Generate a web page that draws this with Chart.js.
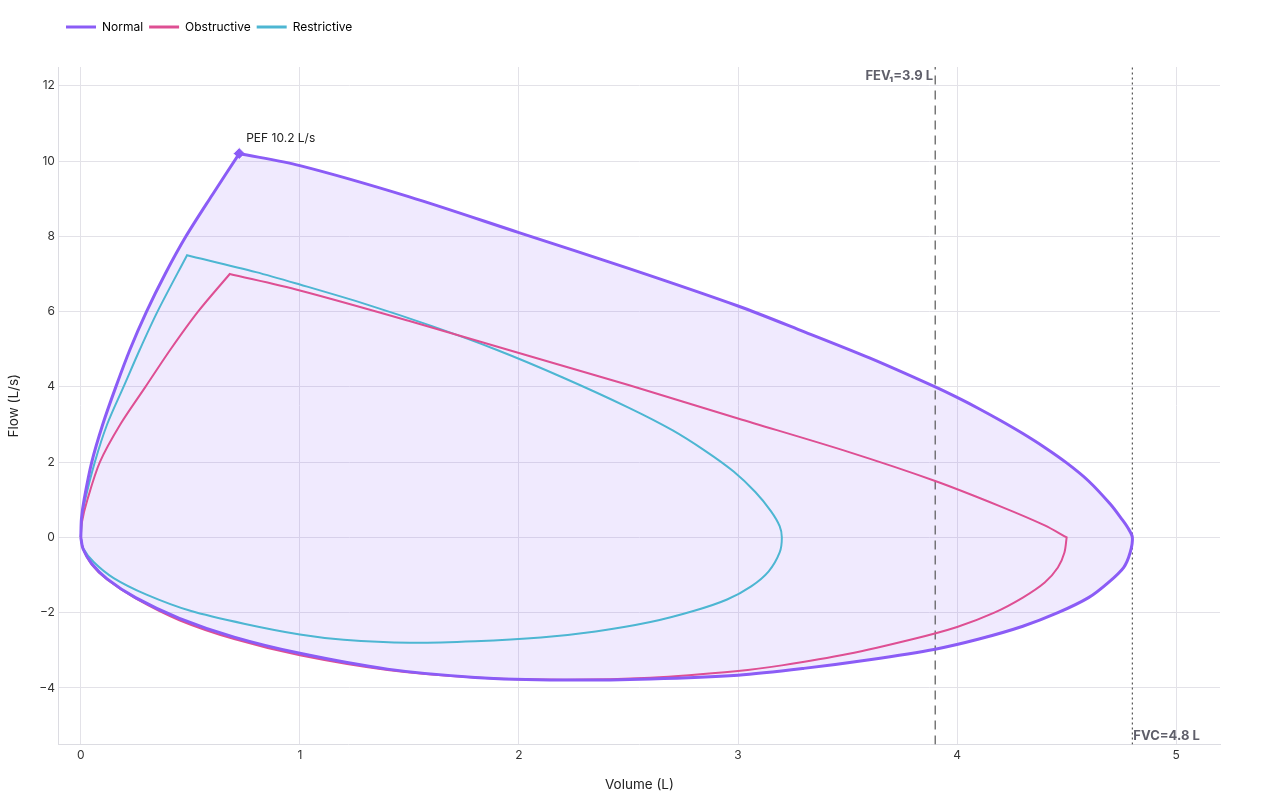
<!DOCTYPE html>
<html>
<head>
<meta charset="utf-8">
<script src="https://cdn.jsdelivr.net/npm/chart.js@4/dist/chart.umd.min.js"></script>
<style>
  html, body { margin: 0; padding: 0; background: #fff; }
  #wrap { width: 1280px; height: 800px; }
</style>
</head>
<body>
<div id="wrap"><canvas id="loopChart"></canvas></div>
<script>
// Flow-volume loops: volume (L) and flow (L/s)
// (a peak value written twice keeps that corner sharp when the line is smoothed)
const normalVol = [0, 0.003, 0.015, 0.05, 0.1, 0.16, 0.225, 0.30, 0.385, 0.48, 0.6, 0.723, 0.723,
  1.0, 1.5, 2.0, 2.5, 3.0, 3.3, 3.6, 3.9, 4.0, 4.1, 4.2, 4.3, 4.4, 4.5, 4.6, 4.7, 4.75, 4.78, 4.8,
  4.79, 4.76, 4.69, 4.6, 4.46, 4.3, 4.1, 3.9, 3.6, 3.3, 3.0, 2.6, 2.2, 1.8, 1.4, 1.0, 0.7, 0.45, 0.25, 0.12, 0.05, 0.01, 0];
const normalFlow = [0, 0.5, 1.0, 2.0, 3.0, 4.0, 5.0, 6.0, 7.0, 8.0, 9.1, 10.2, 10.2,
  9.88, 9.05, 8.1, 7.15, 6.15, 5.47, 4.77, 4.0, 3.72, 3.42, 3.1, 2.76, 2.39, 1.98, 1.5, 0.88, 0.5, 0.25, 0,
  -0.4, -0.8, -1.2, -1.6, -2.0, -2.36, -2.7, -2.97, -3.25, -3.48, -3.66, -3.76, -3.79, -3.72, -3.5, -3.08, -2.65, -2.15, -1.6, -1.1, -0.7, -0.3, 0];

const obstructiveVol = [0, 0.005, 0.03, 0.087, 0.18, 0.295, 0.41, 0.535, 0.68, 0.68,
  1.0, 1.5, 2.0, 2.5, 3.0, 3.5, 3.9, 4.2, 4.4, 4.5, 4.5,
  4.49, 4.46, 4.4, 4.3, 4.17, 4.0, 3.8, 3.5, 3.2, 3.0, 2.6, 2.2, 1.8, 1.4, 1.0, 0.7, 0.45, 0.25, 0.12, 0.05, 0.01, 0];
const obstructiveFlow = [0, 0.4, 1.0, 2.0, 3.0, 4.0, 5.0, 6.0, 7.0, 7.0,
  6.56, 5.75, 4.9, 4.05, 3.16, 2.28, 1.5, 0.82, 0.32, 0, 0,
  -0.4, -0.8, -1.2, -1.6, -2.0, -2.38, -2.7, -3.1, -3.4, -3.55, -3.73, -3.78, -3.72, -3.52, -3.13, -2.7, -2.2, -1.62, -1.12, -0.72, -0.3, 0];

const restrictiveVol = [0, 0.005, 0.02, 0.064, 0.12, 0.195, 0.27, 0.35, 0.485, 0.485,
  0.8, 1.0, 1.3, 1.6, 1.9, 2.2, 2.5, 2.7, 2.85, 2.98, 3.08, 3.15, 3.19, 3.2,
  3.19, 3.14, 3.06, 2.95, 2.8, 2.6, 2.35, 2.1, 1.8, 1.5, 1.2, 1.0, 0.75, 0.5, 0.3, 0.15, 0.06, 0.01, 0];
const restrictiveFlow = [0, 0.5, 1.0, 2.0, 3.0, 4.0, 5.0, 6.0, 7.5, 7.5,
  7.05, 6.72, 6.2, 5.62, 4.98, 4.25, 3.45, 2.85, 2.3, 1.75, 1.2, 0.7, 0.3, 0,
  -0.4, -0.9, -1.3, -1.65, -1.95, -2.25, -2.5, -2.66, -2.76, -2.8, -2.72, -2.58, -2.3, -1.95, -1.52, -1.08, -0.66, -0.28, 0];

const seriesNames = ['Normal', 'Obstructive', 'Restrictive'];
const pef = { vol: 0.723, flow: 10.2 };
const fev1 = 3.9;
const fvc = 4.8;
const xTicks = [0, 1, 2, 3, 4, 5];
const yTicks = [-4, -2, 0, 2, 4, 6, 8, 10, 12];

const X_MIN = -0.1, X_MAX = 5.2, Y_MIN = -5.5, Y_MAX = 12.5;
const FONT = 'Inter, "Noto Sans", sans-serif';

function toPoints(vol, flow) {
    return vol.map(function(v, i) { return { x: v, y: flow[i] }; });
}

function minusSign(value) {
    return String(value).replace('-', '\u2212');
}

// extra labels: PEF, FEV1, FVC
const labelPlugin = {
    id: 'loopLabels',
    beforeInit: function(chart) {
        const fit = chart.legend.fit;
        chart.legend.fit = function() {
            fit.call(chart.legend);
            this.height += 24;
        };
    },
    afterLayout: function(chart) {
        const lg = chart.legend;
        const shift = 60 - lg.left;
        lg.left += shift;
        lg.right += shift;
    },
    afterDatasetsDraw: function(chart) {
        const ctx = chart.ctx;
        const xs = chart.scales.x;
        const ys = chart.scales.y;
        ctx.save();
        ctx.font = '12px ' + FONT;
        ctx.fillStyle = '#222';
        ctx.textBaseline = 'middle';
        ctx.textAlign = 'left';
        ctx.fillText('PEF ' + pef.flow + ' L/s', xs.getPixelForValue(pef.vol) + 7, ys.getPixelForValue(pef.flow) - 15);

        ctx.font = 'bold 13px ' + FONT;
        ctx.fillStyle = '#5f5f6a';
        ctx.textAlign = 'right';
        ctx.fillText('FEV\u2081=' + fev1 + ' L', xs.getPixelForValue(fev1) - 2, chart.chartArea.top + 9);
        ctx.textAlign = 'left';
        ctx.fillText('FVC=' + fvc + ' L', xs.getPixelForValue(fvc) + 1, chart.chartArea.bottom - 8);
        ctx.restore();
    }
};

const ctx = document.getElementById('loopChart').getContext('2d');

const loopChart = new Chart(ctx, {
    type: 'scatter',
    data: {
        datasets: [
            {
                label: seriesNames[0],
                data: toPoints(normalVol, normalFlow),
                showLine: true,
                borderColor: '#8b5cf6',
                backgroundColor: 'rgba(139, 92, 246, 0.13)',
                borderWidth: 3,
                pointRadius: 0,
                fill: 'shape',
                tension: 0.3
            },
            {
                label: seriesNames[1],
                data: toPoints(obstructiveVol, obstructiveFlow),
                showLine: true,
                borderColor: '#de4f93',
                backgroundColor: '#de4f93',
                borderWidth: 2,
                pointRadius: 0,
                fill: false,
                tension: 0.3
            },
            {
                label: seriesNames[2],
                data: toPoints(restrictiveVol, restrictiveFlow),
                showLine: true,
                borderColor: '#4db6d2',
                backgroundColor: '#4db6d2',
                borderWidth: 2,
                pointRadius: 0,
                fill: false,
                tension: 0.3
            },
            {
                label: 'PEF',
                data: [{ x: pef.vol, y: pef.flow }],
                pointStyle: 'rectRot',
                pointRadius: 6,
                backgroundColor: '#8b5cf6',
                borderColor: '#ffffff',
                borderWidth: 1
            },
            {
                label: 'FEV1',
                data: [{ x: fev1, y: Y_MIN }, { x: fev1, y: Y_MAX }],
                showLine: true,
                borderColor: '#555',
                borderWidth: 1.2,
                borderDash: [9, 6],
                pointRadius: 0,
                fill: false
            },
            {
                label: 'FVC',
                data: [{ x: fvc, y: Y_MIN }, { x: fvc, y: Y_MAX }],
                showLine: true,
                borderColor: '#555',
                borderWidth: 1.2,
                borderDash: [2, 3],
                pointRadius: 0,
                fill: false
            }
        ]
    },
    options: {
        responsive: true,
        maintainAspectRatio: false,
        animation: false,
        layout: {
            padding: { top: 15, left: 2, right: 60, bottom: 4 }
        },
        scales: {
            x: {
                type: 'linear',
                min: X_MIN,
                max: X_MAX,
                afterBuildTicks: function(scale) {
                    scale.ticks = xTicks.map(function(v) { return { value: v }; });
                },
                ticks: {
                    padding: 4,
                    color: '#333',
                    font: { family: FONT, size: 12 },
                    callback: function(value) { return minusSign(value); }
                },
                grid: { color: '#e3e2e8', drawTicks: false },
                border: { display: true, color: '#dcdce2' },
                title: {
                    display: true,
                    text: 'Volume (L)',
                    color: '#222',
                    font: { family: FONT, size: 13.5 },
                    padding: { top: 10, bottom: 3 }
                }
            },
            y: {
                type: 'linear',
                min: Y_MIN,
                max: Y_MAX,
                afterBuildTicks: function(scale) {
                    scale.ticks = yTicks.map(function(v) { return { value: v }; });
                },
                ticks: {
                    padding: 4,
                    color: '#333',
                    font: { family: FONT, size: 12 },
                    callback: function(value) { return minusSign(value); }
                },
                grid: { color: '#e3e2e8', drawTicks: false },
                border: { display: true, color: '#dcdce2' },
                title: {
                    display: true,
                    text: 'Flow (L/s)',
                    color: '#222',
                    font: { family: FONT, size: 13.5 },
                    padding: { top: 4, bottom: 13 }
                }
            }
        },
        plugins: {
            filler: { drawTime: 'beforeDatasetsDraw' },
            legend: {
                position: 'top',
                align: 'start',
                labels: {
                    color: '#333',
                    font: { family: FONT, size: 12 },
                    boxWidth: 30,
                    boxHeight: 3,
                    padding: 6,
                    filter: function(item) { return item.datasetIndex < 3; },
                    generateLabels: function(chart) {
                        return chart.data.datasets.map(function(ds, i) {
                            return {
                                text: ds.label,
                                fillStyle: ds.borderColor,
                                strokeStyle: ds.borderColor,
                                lineWidth: 0,
                                hidden: false,
                                datasetIndex: i
                            };
                        });
                    }
                }
            },
            tooltip: { enabled: false }
        }
    },
    plugins: [labelPlugin]
});
</script>
</body>
</html>
